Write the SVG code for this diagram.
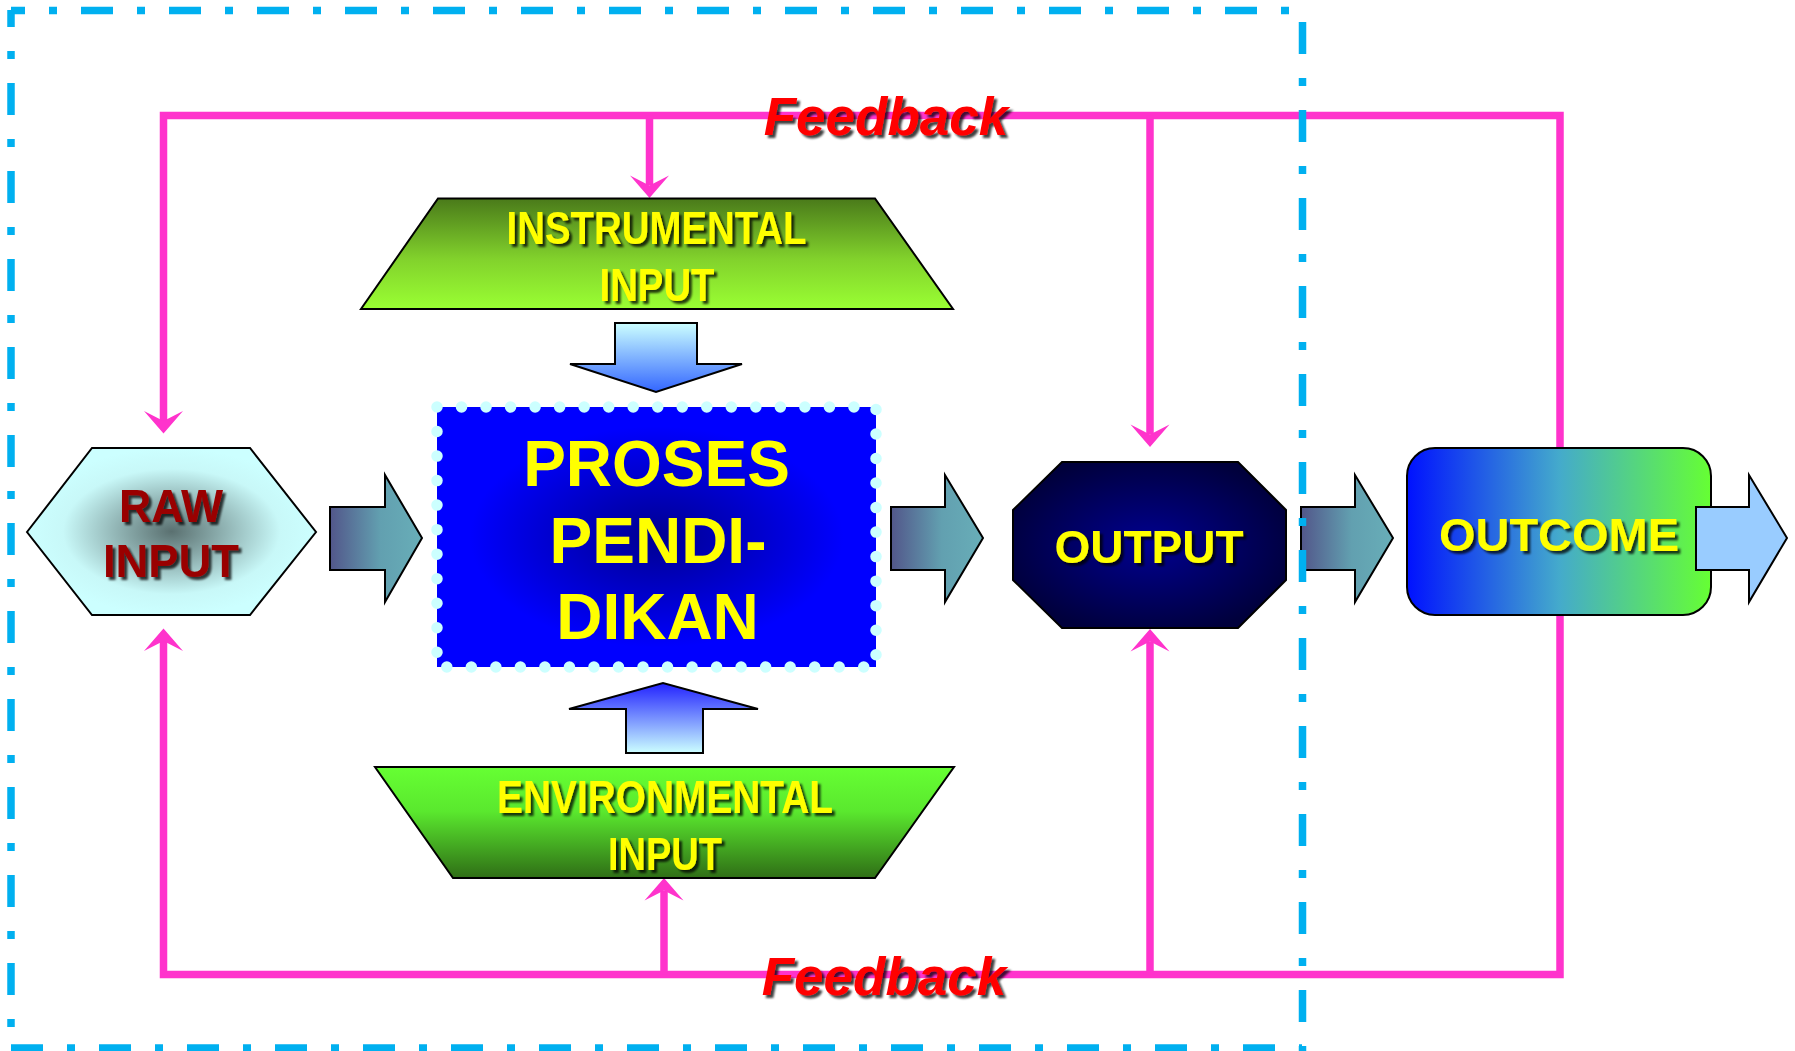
<svg xmlns="http://www.w3.org/2000/svg" width="1795" height="1051" viewBox="0 0 1795 1051">
<defs>
<style>
.fb{fill:none;stroke:#FF33CC;stroke-width:7.5;stroke-linejoin:miter}
.brd{stroke:#00B0F0;stroke-width:7.5;fill:none}
.t{font-family:"Liberation Sans",Arial,sans-serif;font-weight:bold;text-anchor:middle}
.yl{fill:#FFFF00}
.ol{stroke:#000;stroke-width:2}
</style>
<filter id="sh" x="-10%" y="-20%" width="130%" height="150%">
<feDropShadow dx="3" dy="3" stdDeviation="1.2" flood-color="#000" flood-opacity="0.75"/>
</filter>
<marker id="ah" markerUnits="userSpaceOnUse" markerWidth="24" markerHeight="40" viewBox="0 -20 23 40" refX="10" refY="0" orient="auto-start-reverse">
<path d="M22.6,0 L0,-19.5 L10,0 L0,19.5 Z" fill="#FF33CC"/>
</marker>
<linearGradient id="gInst" x1="0" y1="0" x2="0" y2="1">
<stop offset="0" stop-color="#4A7A1A"/><stop offset="0.55" stop-color="#82D22C"/><stop offset="1" stop-color="#9AFF33"/>
</linearGradient>
<linearGradient id="gEnv" x1="0" y1="0" x2="0" y2="1">
<stop offset="0" stop-color="#66FF33"/><stop offset="0.4" stop-color="#5AE82E"/><stop offset="1" stop-color="#2F6E16"/>
</linearGradient>
<linearGradient id="gDown" x1="0" y1="0" x2="0" y2="1">
<stop offset="0" stop-color="#CCFFFF"/><stop offset="1" stop-color="#3366FF"/>
</linearGradient>
<linearGradient id="gUp" x1="0" y1="0" x2="0" y2="1">
<stop offset="0" stop-color="#2222FF"/><stop offset="1" stop-color="#CCFFFF"/>
</linearGradient>
<linearGradient id="gArr" x1="0" y1="0" x2="1" y2="0">
<stop offset="0" stop-color="#52568A"/><stop offset="0.55" stop-color="#62A0B0"/><stop offset="1" stop-color="#68AEB8"/>
</linearGradient>
<linearGradient id="gOut" x1="0" y1="0" x2="1" y2="0">
<stop offset="0" stop-color="#0011FF"/><stop offset="0.5" stop-color="#44AACC"/><stop offset="1" stop-color="#66FF33"/>
</linearGradient>
<radialGradient id="gRaw" cx="0.5" cy="0.5" r="0.5">
<stop offset="0" stop-color="#5A7070"/><stop offset="0.75" stop-color="#C8F8F8"/><stop offset="1" stop-color="#CCFFFF"/>
</radialGradient>
<radialGradient id="gProc" cx="0.5" cy="0.5" r="0.5">
<stop offset="0" stop-color="#000090"/><stop offset="0.85" stop-color="#0000FF"/><stop offset="1" stop-color="#0000FF"/>
</radialGradient>
<radialGradient id="gOutp" cx="0.5" cy="0.5" r="0.55">
<stop offset="0" stop-color="#000090"/><stop offset="1" stop-color="#00003C"/>
</radialGradient>
</defs>
<rect width="1795" height="1051" fill="#FFFFFF"/>

<g id="connectors">
<path class="fb" d="M163.5,421 V115.5 H1560 V974.5 H163.5 V641" marker-start="url(#ah)" marker-end="url(#ah)"/>
<path class="fb" d="M649.5,115.5 V185.5" marker-end="url(#ah)"/>
<path class="fb" d="M1150,115.5 V434.5" marker-end="url(#ah)"/>
<path class="fb" d="M664,974.5 V890.5" marker-end="url(#ah)"/>
<path class="fb" d="M1150,974.5 V641.5" marker-end="url(#ah)"/>
<polygon class="ol" fill="url(#gArr)" points="330,507 385,507 385,475 422,538 385,602 385,570 330,570"/>
<polygon class="ol" fill="url(#gArr)" points="891,507 945,507 945,475 983,538 945,602 945,570 891,570"/>
<polygon class="ol" fill="url(#gArr)" points="1301,507 1355,507 1355,475 1393,538 1355,602 1355,570 1301,570"/>
<polygon class="ol" fill="url(#gDown)" points="615,323 697,323 697,364 742,364 656,392 570,364 615,364"/>
<polygon class="ol" fill="url(#gUp)" points="626,753 703,753 703,709 758,709 663,683 569,709 626,709"/>
</g>

<g id="feedback-top">
<text class="t" x="886" y="135" font-size="53" font-style="italic" fill="#FF0000" filter="url(#sh)">Feedback</text>
</g>
<g id="feedback-bottom">
<text class="t" x="884" y="995" font-size="53" font-style="italic" fill="#FF0000" filter="url(#sh)">Feedback</text>
</g>

<g id="instrumental-input">
<polygon class="ol" fill="url(#gInst)" points="438,198.5 875,198.5 953,309 361,309"/>
<text class="t yl" x="656.5" y="244" font-size="47" textLength="300" lengthAdjust="spacingAndGlyphs" filter="url(#sh)">INSTRUMENTAL</text>
<text class="t yl" x="657" y="301" font-size="47" textLength="115" lengthAdjust="spacingAndGlyphs" filter="url(#sh)">INPUT</text>
</g>

<g id="environmental-input">
<polygon class="ol" fill="url(#gEnv)" points="375,767 954,767 875,878 453,878"/>
<text class="t yl" x="665" y="813" font-size="47" textLength="336" lengthAdjust="spacingAndGlyphs" filter="url(#sh)">ENVIRONMENTAL</text>
<text class="t yl" x="665" y="870" font-size="47" textLength="114" lengthAdjust="spacingAndGlyphs" filter="url(#sh)">INPUT</text>
</g>

<g id="raw-input">
<polygon class="ol" fill="url(#gRaw)" points="27,532 92,448 250,448 316,532 250,615 92,615"/>
<text class="t" x="171" y="522" font-size="47" fill="#990000" textLength="104" lengthAdjust="spacingAndGlyphs" filter="url(#sh)">RAW</text>
<text class="t" x="171" y="577" font-size="47" fill="#990000" textLength="136" lengthAdjust="spacingAndGlyphs" filter="url(#sh)">INPUT</text>
</g>

<g id="proses-pendidikan">
<rect x="437" y="407" width="439" height="260" fill="url(#gProc)"/>
<rect x="437" y="407" width="439" height="260" fill="none" stroke="#CCFFFF" stroke-width="11.5" stroke-linecap="round" stroke-dasharray="0 24.526"/>
<text class="t yl" x="656.5" y="486" font-size="64">PROSES</text>
<text class="t yl" x="658" y="563" font-size="64">PENDI-</text>
<text class="t yl" x="657.5" y="639" font-size="64">DIKAN</text>
</g>

<g id="output">
<polygon class="ol" fill="url(#gOutp)" points="1062,462 1238,462 1286,510 1286,580 1238,628 1062,628 1013,580 1013,510"/>
<text class="t yl" x="1149" y="563" font-size="46" filter="url(#sh)">OUTPUT</text>
</g>

<g id="outcome">
<rect class="ol" x="1407" y="448" width="304" height="167" rx="28" ry="28" fill="url(#gOut)"/>
<text class="t yl" x="1559" y="551" font-size="47" filter="url(#sh)">OUTCOME</text>
<polygon class="ol" fill="#99CCFF" points="1696,507 1749,507 1749,475 1787,538 1749,602 1749,570 1696,570"/>
</g>

<g id="boundary">
<line class="brd" x1="11" y1="10.5" x2="1290" y2="10.5" stroke-dasharray="32 24 8 24" stroke-dashoffset="18"/>
<line class="brd" x1="11" y1="10" x2="11" y2="1051" stroke-dasharray="32 24 8 24" stroke-dashoffset="15"/>
<line class="brd" x1="1302.5" y1="22" x2="1302.5" y2="1051" stroke-dasharray="32 24 8 24"/>
<line class="brd" x1="11" y1="1048" x2="1302" y2="1048" stroke-dasharray="32 24 8 24"/>
</g>
</svg>
